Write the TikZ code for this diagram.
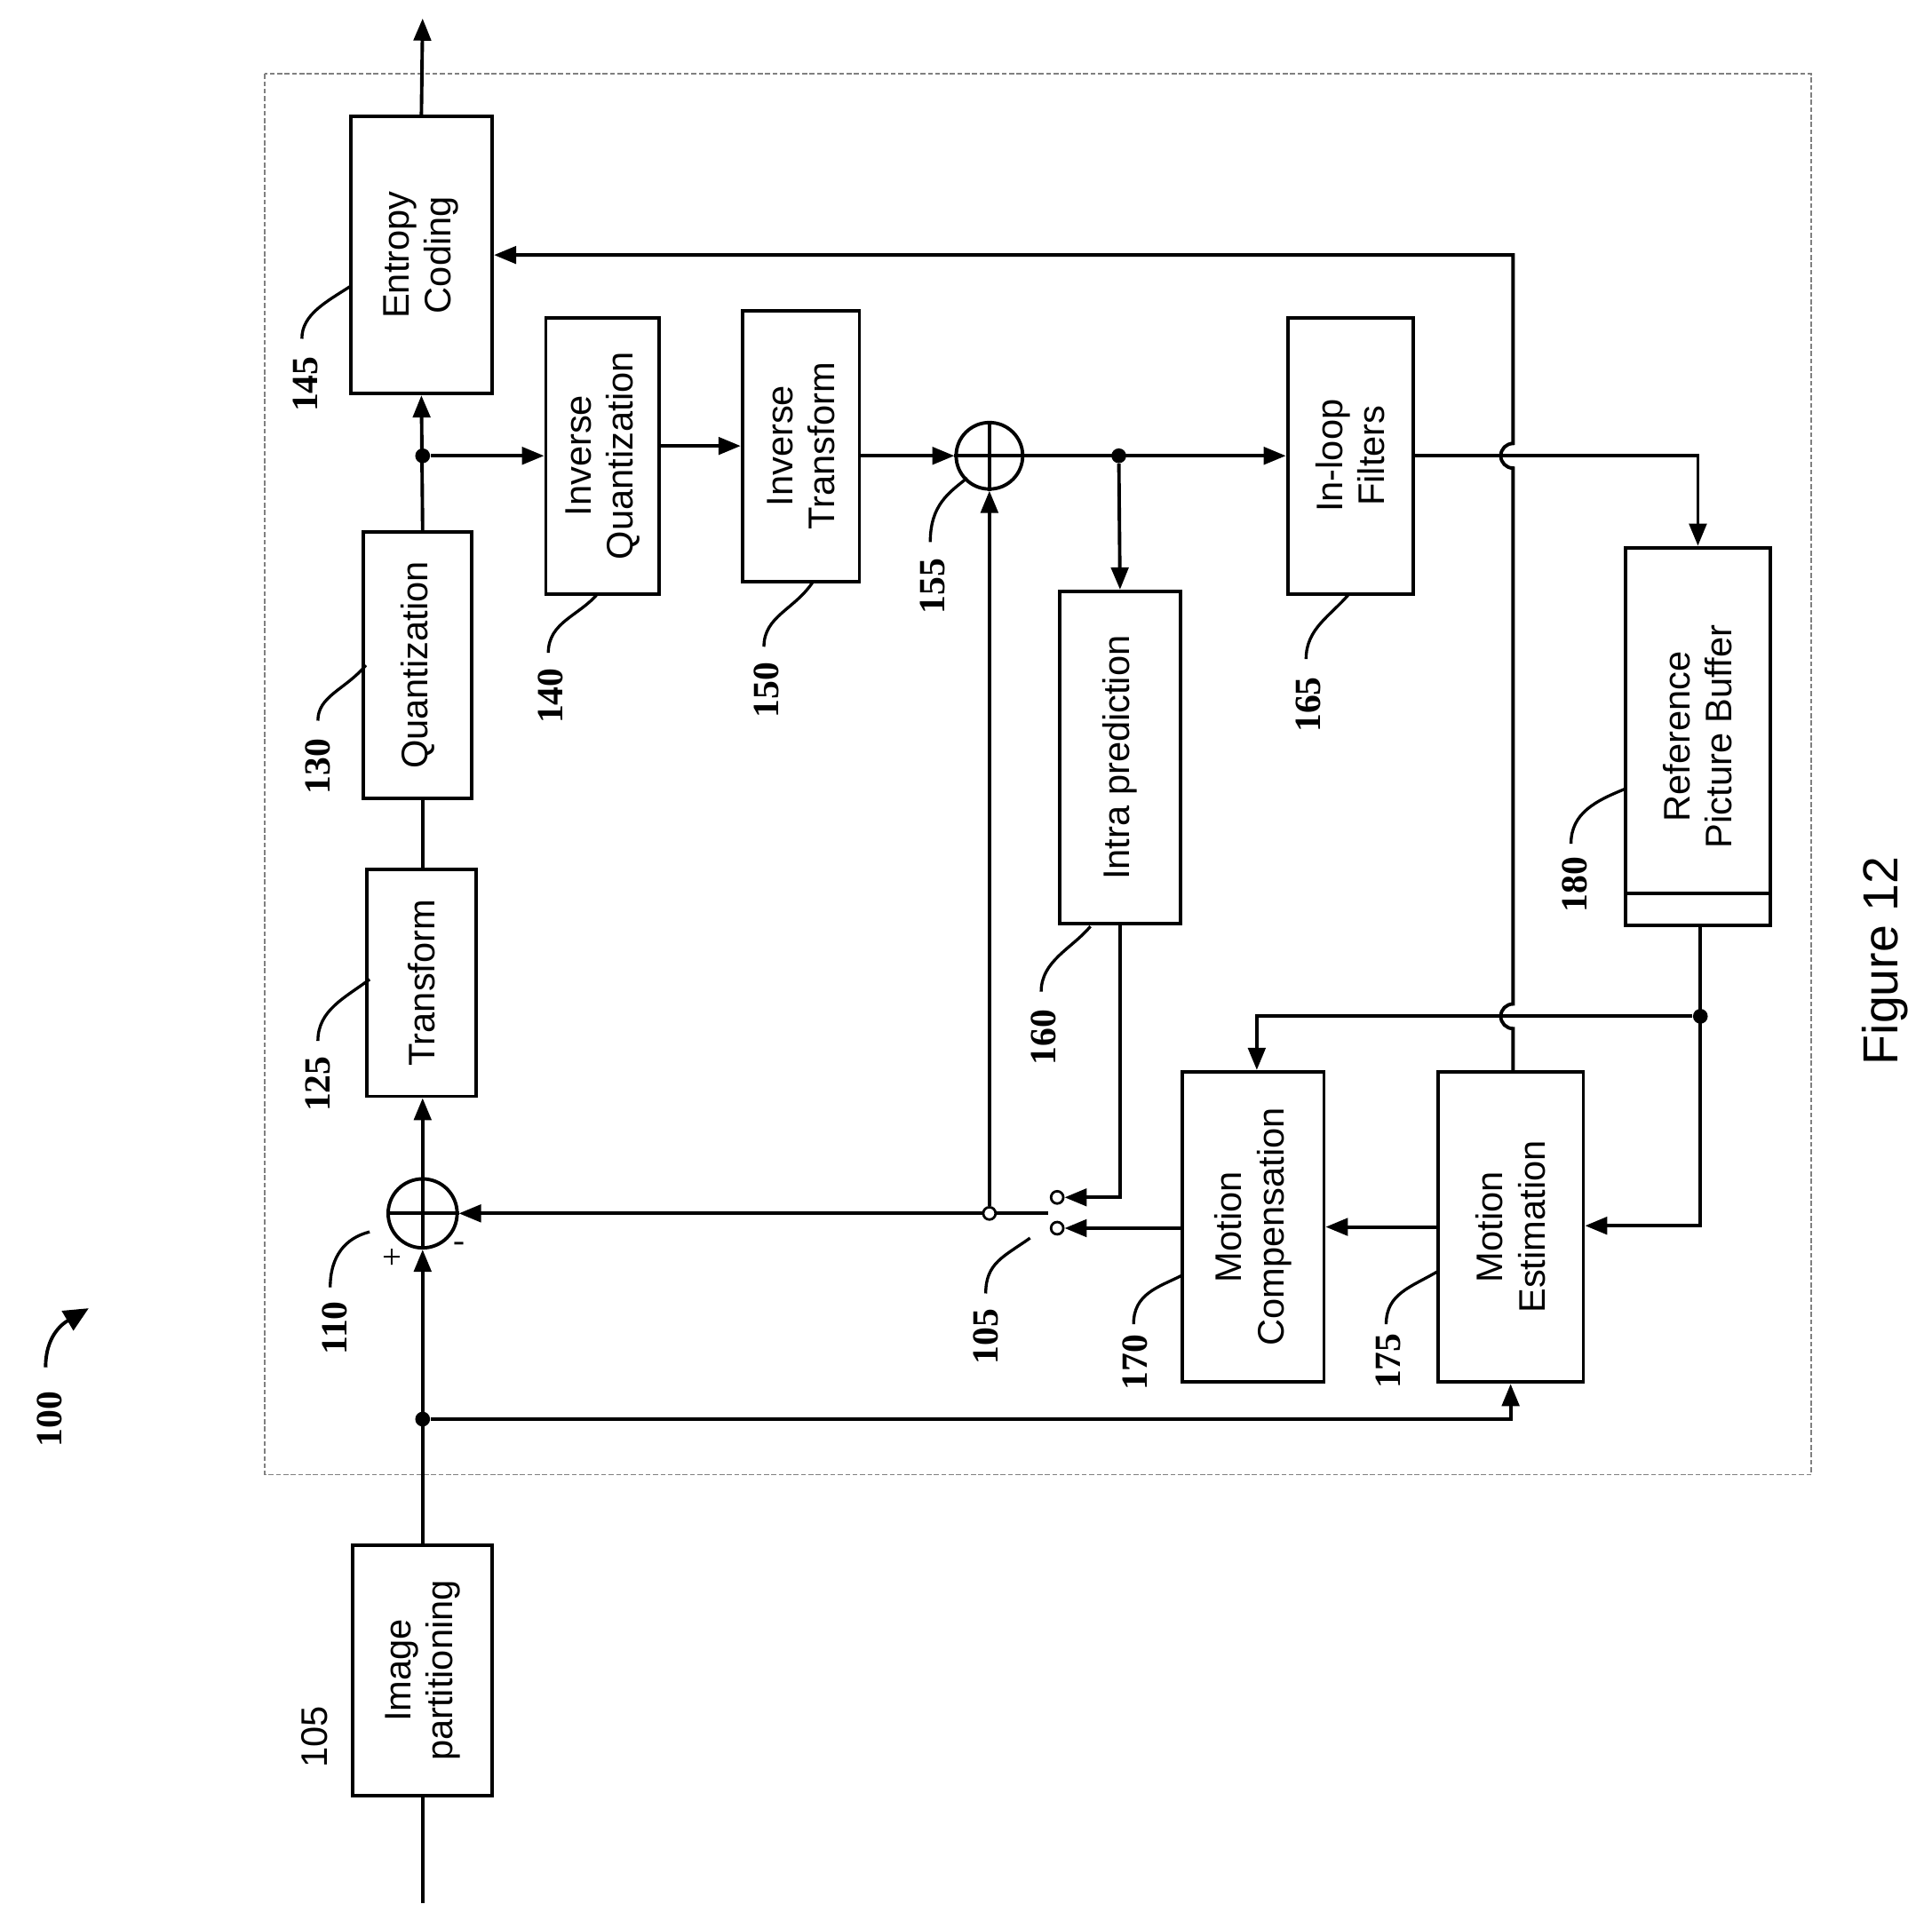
\documentclass[tikz,border=0pt]{standalone}
\usepackage{fontspec}
\setmainfont{Liberation Serif}
\setsansfont{Liberation Sans}
\usetikzlibrary{arrows.meta}
\begin{document}
\begin{tikzpicture}[x=0.5pt,y=-0.5pt,
 box/.style={draw,line width=1.4pt,inner sep=0pt,font=\sffamily\fontsize{14}{15}\selectfont,align=center},
 ln/.style={line width=1.4pt},
 ar/.style={line width=1.4pt,-{Triangle[length=9pt,width=7pt]}},
 lab/.style={font=\bfseries\fontsize{15}{15}\selectfont,rotate=90},
 dot/.style={circle,fill,inner sep=0pt,minimum size=6pt},
 sw/.style={circle,draw,line width=1pt,fill=white,inner sep=0pt,minimum size=5pt}]
\useasboundingbox (0,0) rectangle (1568,1558);
\draw[gray,line width=0.6pt,dash pattern=on 2pt off 1pt] (215,60) rectangle (1470,1197);
% boxes
\newcommand{\bx}[6]{\node[box,minimum width=#4*0.5pt,minimum height=#5*0.5pt] (#1) at (#2,#3) {}; \node[rotate=90,font=\sffamily\fontsize{15}{17}\selectfont,align=center] at (#2,#3) {#6};}
\bx{ip}{343}{1356}{113}{203}{Image\\partitioning}
\bx{tr}{342}{798}{89}{184}{Transform}
\bx{qu}{339}{540}{88}{216}{Quantization}
\bx{ec}{342}{207}{115}{225}{Entropy\\Coding}
\bx{iq}{489}{370}{92}{224}{Inverse\\Quantization}
\bx{it}{650}{362}{95}{220}{Inverse\\Transform}
\bx{pr}{909}{615}{98}{270}{Intra prediction}
\bx{lf}{1096}{370}{102}{224}{In-loop\\Filters}
\bx{rb}{1378}{598}{117}{307}{Reference\\Picture Buffer}
\draw[line width=1.4pt] (1320,725) -- (1437,725);
\bx{mc}{1017}{996}{115}{252}{Motion\\Compensation}
\bx{me}{1226}{996}{118}{252}{Motion\\Estimation}
% adders
\node[circle,draw,line width=1.4pt,minimum size=28pt,inner sep=0pt] (a1) at (343,985) {};
\draw[ln] (a1.north)--(a1.south) (a1.west)--(a1.east);
\node[circle,draw,line width=1.4pt,minimum size=27pt,inner sep=0pt] (a2) at (803,370) {};
\draw[ln] (a2.north)--(a2.south) (a2.west)--(a2.east);
\node[font=\fontsize{14}{14}\selectfont] at (318,1022) {+};
\node[font=\fontsize{14}{14}\selectfont] at (373,1012) {-};
% coordinates
\coordinate (in) at (343,1545);
\coordinate (out) at (343,15);
\node[dot] (d1) at (343,1152) {};
\node[dot] (d2) at (343,370) {};
\node[dot] (d3) at (908,370) {};
\node[dot] (d4) at (1380,825) {};
\node[sw] (pv) at (803,985) {};
\node[sw] (c1) at (858,972) {};
\node[sw] (c2) at (858,997) {};
% flows
\draw[ln] (in) -- (ip.south);
\draw[ar] (ip.north) -- (a1.south);
\draw[ar] (a1.north) -- (a1.north|-tr.south);
\draw[ln] (d2|-tr.north) -- (d2|-qu.south);
\draw[ar] (d2|-qu.north) -- (ec.south);
\draw[ar] (ec.north) -- (out);
\draw[ar] (d2) -- (iq.west|-d2);
\draw[ar] (iq.east|-it) -- (it.west);
\draw[ar] (it.east|-a2) -- (a2.west);
\draw[ar] (a2.east) -- (lf.west|-a2);
\draw[ar] (d3) -- (pr.north);
\draw[ar] (pr.south) |- (c1.east);
\draw[ar] (mc.west|-c2) -- (c2.east);
\draw[ar] (me.west) -- (mc.east);
\draw[ln] (pv) -- (851,985);
\draw[ar] (pv) -- (a1.east);
\draw[ar] (pv) -- (a2.south);
\draw[ar] (d1) -| (me.south);
\draw[ar] (lf.east|-a2) -- (1378,370) -- (rb.north);
\draw[ar] (rb.south-|1380,0) -- (1380,995) -- (me.east|-0,995);
\draw[ar] (d4) -- (1020,825) -- (mc.north-|1020,0);
\draw[ar] (me.north-|1228,0) -- (1228,835) arc[start angle=90,end angle=270,radius=10] -- (1228,380) arc[start angle=90,end angle=270,radius=10] -- (1228,207) -- (ec.east|-0,207);
% labels
\node[lab] at (248,312) {145};
\node[lab] at (258,622) {130};
\node[lab] at (258,880) {125};
\node[lab] at (272,1078) {110};
\node[lab] at (447,565) {140};
\node[lab] at (622,560) {150};
\node[lab] at (757,476) {155};
\node[lab] at (847,842) {160};
\node[lab] at (800,1085) {105};
\node[lab] at (921,1106) {170};
\node[lab] at (1127,1105) {175};
\node[lab] at (1062,572) {165};
\node[lab] at (1278,718) {180};
\node[lab] at (40,1152) {100};
\node[rotate=90,font=\sffamily\fontsize{15}{15}\selectfont] at (255,1410) {105};
\node[rotate=90,font=\sffamily\fontsize{20}{20}\selectfont] at (1530,780) {Figure 12};
% leaders
\tikzset{ld/.style={line width=1.2pt}}
\draw[ld] (245,275) .. controls (245,255) and (265,245) .. (285,232);
\draw[ld] (258,585) .. controls (258,565) and (280,560) .. (297,540);
\draw[ld] (258,845) .. controls (258,820) and (280,810) .. (300,795);
\draw[ld] (268,1045) .. controls (268,1020) and (280,1005) .. (300,1000);
\draw[ld] (445,530) .. controls (445,505) and (470,500) .. (485,482);
\draw[ld] (620,525) .. controls (620,500) and (645,495) .. (660,472);
\draw[ld] (755,440) .. controls (755,410) and (770,400) .. (785,388);
\draw[ld] (845,805) .. controls (845,780) and (870,770) .. (885,752);
\draw[ld] (800,1050) .. controls (800,1025) and (815,1020) .. (836,1005);
\draw[ld] (920,1075) .. controls (920,1050) and (940,1045) .. (960,1035);
\draw[ld] (1125,1075) .. controls (1125,1050) and (1145,1045) .. (1167,1032);
\draw[ld] (1060,535) .. controls (1060,510) and (1080,500) .. (1095,482);
\draw[ld] (1275,685) .. controls (1275,660) and (1295,650) .. (1320,640);
\draw[line width=1.4pt,-{Triangle[length=10pt,width=9pt]}] (37,1110) .. controls (37,1085) and (50,1075) .. (72,1062);
\end{tikzpicture}
\end{document}
